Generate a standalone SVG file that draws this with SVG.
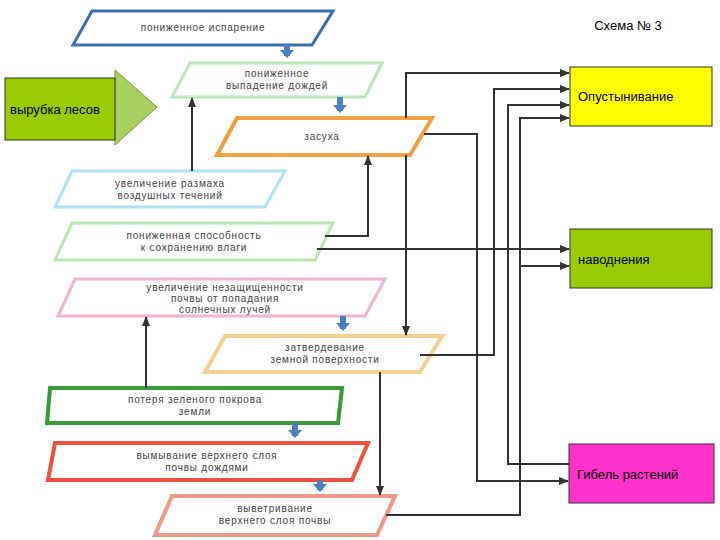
<svg xmlns="http://www.w3.org/2000/svg" width="720" height="540" viewBox="0 0 720 540">
<defs>
<marker id="ah" markerWidth="10" markerHeight="8" refX="9" refY="4" orient="auto" markerUnits="userSpaceOnUse"><path d="M0,0 L10,4 L0,8 z" fill="#333"/></marker>
<marker id="bh" markerWidth="14" markerHeight="14" refX="6" refY="7" orient="auto" markerUnits="userSpaceOnUse"><path d="M0,0 L8,7 L0,14 z" fill="#4a7fc0"/></marker>
<style>
.t{font-family:"Liberation Sans",Arial,sans-serif;font-size:10px;fill:#444;text-anchor:middle;letter-spacing:0.8px}
.b{font-family:"Liberation Sans",Arial,sans-serif;font-size:13px;fill:#000}
.p{fill:#fff}
.c{fill:none;stroke:#333;stroke-width:2}
.blue{stroke:#4a7fc0;stroke-width:6;fill:none}
</style>
</defs>
<rect width="720" height="540" fill="#fff"/>
<text x="628" y="30" class="b" text-anchor="middle" font-size="14">Схема № 3</text>
<g id="left">
<polygon points="115,70 157,107 115,145" fill="#a8d060" stroke="#7a9a40"/>
<rect x="5" y="78" width="110" height="62" fill="#99cc00" stroke="#333"/>
<text x="10" y="114" class="b">вырубка лесов</text>
</g>
<g id="n1"><polygon class="p" points="92,11 333,11 312,45 73,45" stroke="#3a6fb0" stroke-width="3"/><text class="t" x="203" y="31">пониженное испарение</text></g>
<g id="n2"><polygon class="p" points="190,63 382,63 365,97 172,97" stroke="#b8e8b8" stroke-width="3"/><text class="t" x="277" y="77">пониженное</text><text class="t" x="277" y="89">выпадение дождей</text></g>
<g id="n3"><polygon class="p" points="237,118 432,118 410,155 217,155" stroke="#f0a040" stroke-width="4"/><text class="t" x="322" y="140">засуха</text></g>
<g id="n4"><polygon class="p" points="72,171 285,171 265,207 55,207" stroke="#b0e4f4" stroke-width="3"/><text class="t" x="170" y="187">увеличение размаха</text><text class="t" x="170" y="199">воздушных течений</text></g>
<g id="n5"><polygon class="p" points="72,223 333,223 315,260 55,260" stroke="#b8e8b0" stroke-width="3"/><text class="t" x="194" y="239">пониженная способность</text><text class="t" x="194" y="251">к сохранению влаги</text></g>
<g id="n6"><polygon class="p" points="75,279 385,279 365,316 58,316" stroke="#f0b4d4" stroke-width="3"/><text class="t" x="225" y="291">увеличение незащищенности</text><text class="t" x="225" y="302">почвы от попадания</text><text class="t" x="225" y="313">солнечных лучей</text></g>
<g id="n7"><polygon class="p" points="225,336 442,336 420,372 205,372" stroke="#f5d094" stroke-width="4"/><text class="t" x="325" y="351">затвердевание</text><text class="t" x="325" y="363">земной поверхности</text></g>
<g id="n8"><polygon class="p" points="50,388 342,388 338,423 47,423" stroke="#3a9a3a" stroke-width="4"/><text class="t" x="195" y="403">потеря зеленого покрова</text><text class="t" x="195" y="415">земли</text></g>
<g id="n9"><polygon class="p" points="55,443 368,443 352,480 48,480" stroke="#f05040" stroke-width="4"/><text class="t" x="207" y="459">вымывание верхнего слоя</text><text class="t" x="207" y="471">почвы дождями</text></g>
<g id="n10"><polygon class="p" points="172,496 395,496 377,535 155,535" stroke="#f09a88" stroke-width="4"/><text class="t" x="275" y="512">выветривание</text><text class="t" x="275" y="524">верхнего слоя почвы</text></g>
<g id="r1"><rect x="570" y="67" width="142" height="59" fill="#ffff00" stroke="#333"/><text class="b" x="578" y="101">Опустынивание</text></g>
<g id="r2"><rect x="570" y="229" width="142" height="59" fill="#99cc00" stroke="#333"/><text class="b" x="578" y="264">наводнения</text></g>
<g id="r3"><rect x="569" y="444" width="145" height="59" fill="#ff33cc" stroke="#333"/><text class="b" x="577" y="479">Гибель растений</text></g>
<g id="connectors">
<path class="blue" d="M287,45 V56" marker-end="url(#bh)"/>
<path class="blue" d="M340,97 V111" marker-end="url(#bh)"/>
<path class="blue" d="M343,316 V329" marker-end="url(#bh)"/>
<path class="blue" d="M295,423 V436" marker-end="url(#bh)"/>
<path class="blue" d="M320,480 V490" marker-end="url(#bh)"/>
<path class="c" d="M192,171 V98" marker-end="url(#ah)"/>
<path class="c" d="M325,236 H368 V156" marker-end="url(#ah)"/>
<path class="c" d="M317,249 H569" marker-end="url(#ah)"/>
<path class="c" d="M406,118 V73 H569" marker-end="url(#ah)"/>
<path class="c" d="M406,155 V335" marker-end="url(#ah)"/>
<path class="c" d="M424,134 H477 V481 H568" marker-end="url(#ah)"/>
<path class="c" d="M420,355 H494 V89 H569" marker-end="url(#ah)"/>
<path class="c" d="M380,372 V495" marker-end="url(#ah)"/>
<path class="c" d="M569,464 H508 V105 H569" marker-end="url(#ah)"/>
<path class="c" d="M386,515 H520 V118 H569" marker-end="url(#ah)"/>
<path class="c" d="M520,266 H569" marker-end="url(#ah)"/>
<path class="c" d="M146,388 V317" marker-end="url(#ah)"/>
</g>
</svg>
